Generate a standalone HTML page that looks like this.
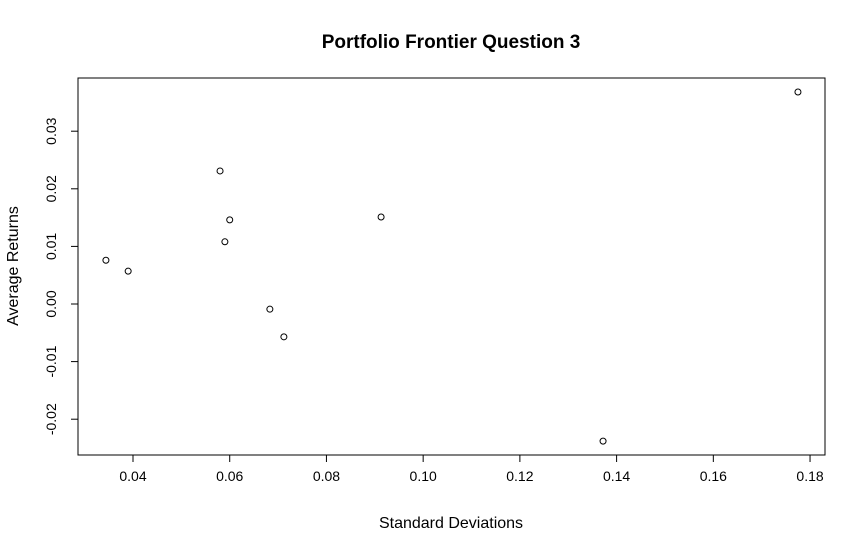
<!DOCTYPE html>
<html><head><meta charset="utf-8"><style>
body{margin:0;background:#fff;}
svg{display:block;font-family:"Liberation Sans",Arial,sans-serif;}
</style></head><body>
<svg id="chart" width="866" height="553" viewBox="0 0 866 553">
<rect width="866" height="553" fill="#fff"/>
<text x="451" y="48" text-anchor="middle" font-size="19" font-weight="bold">Portfolio Frontier Question 3</text>
<rect x="78" y="78" width="747" height="377" fill="none" stroke="#000" stroke-width="1"/>
<g id="xaxis"></g>
<g id="yaxis"></g>
<g id="points"></g>
<text x="451" y="528" text-anchor="middle" font-size="16">Standard Deviations</text>
<text transform="translate(18,266) rotate(-90)" text-anchor="middle" font-size="16">Average Returns</text>
</svg>
<script>
const sdValues=[0.0344,0.039,0.058,0.059,0.060,0.0683,0.0712,0.0913,0.1372,0.1775];
const returnValues=[0.0076,0.0057,0.0231,0.0108,0.0146,-0.0009,-0.0057,0.0151,-0.0238,0.0368];
const xTicks=[0.04,0.06,0.08,0.10,0.12,0.14,0.16,0.18];
const xTickLabels=["0.04","0.06","0.08","0.10","0.12","0.14","0.16","0.18"];
const yTicks=[-0.02,-0.01,0,0.01,0.02,0.03];
const yTickLabels=["-0.02","-0.01","0.00","0.01","0.02","0.03"];
const NS="http://www.w3.org/2000/svg";
function xs(v){return 133+(v-0.04)*4836;}
function ys(v){return 304-v*5760;}
function mk(t,a,p){const e=document.createElementNS(NS,t);for(const k in a)e.setAttribute(k,a[k]);p.appendChild(e);return e;}
const xa=document.getElementById('xaxis');
mk('line',{x1:xs(xTicks[0]),x2:xs(xTicks[xTicks.length-1]),y1:455,y2:455,stroke:'#000'},xa);
xTicks.forEach((v,i)=>{
 const l=mk('line',{x1:xs(v),x2:xs(v),y1:455,y2:462,stroke:'#000'},xa);
 
 
 const t=mk('text',{x:xs(v),y:481,'text-anchor':'middle','font-size':14},xa);
 t.textContent=xTickLabels[i];
 
 
});
const ya=document.getElementById('yaxis');
mk('line',{x1:78,x2:78,y1:ys(yTicks[0]),y2:ys(yTicks[yTicks.length-1]),stroke:'#000'},ya);
yTicks.forEach((v,i)=>{
 const l=mk('line',{x1:71,x2:78,y1:ys(v),y2:ys(v),stroke:'#000'},ya);
 
 
 const t=mk('text',{transform:`translate(56,${ys(v)}) rotate(-90)`,'text-anchor':'middle','font-size':14},ya);
 t.textContent=yTickLabels[i];
 
 
});
const pg=document.getElementById('points');
sdValues.forEach((v,i)=>{
 const c=mk('circle',{cx:xs(v),cy:ys(returnValues[i]),r:3,fill:'none',stroke:'#000','stroke-width':1},pg);
 
 
});
</script>
</body></html>
